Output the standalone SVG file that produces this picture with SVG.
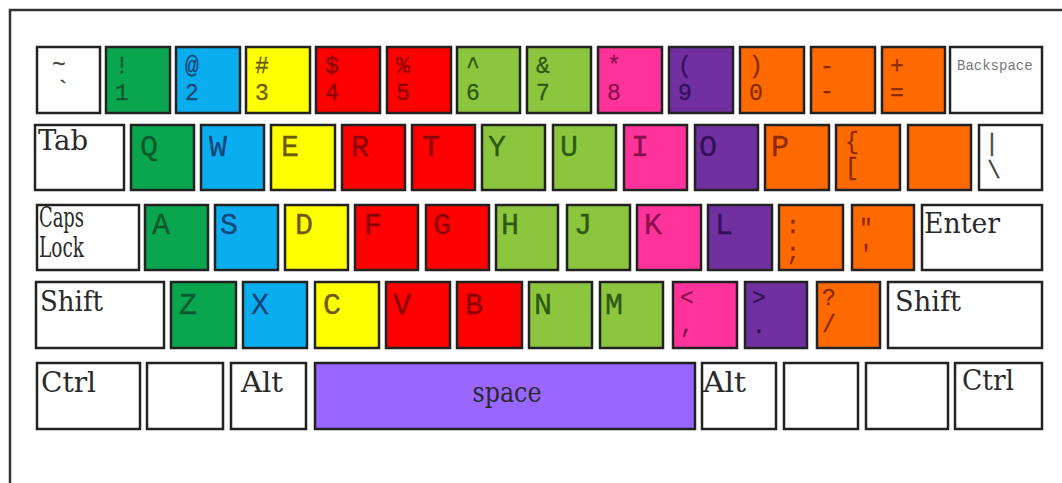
<svg xmlns="http://www.w3.org/2000/svg" width="1062" height="483" viewBox="0 0 1062 483">
<style>
.k{stroke:#222;stroke-width:2.5}
.w{fill:#fff}.g{fill:#0aa64f}.b{fill:#0aaeef}.y{fill:#ffff00}.r{fill:#ff0000}.l{fill:#8cc63f}.p{fill:#ff3399}.v{fill:#7030a0}.o{fill:#ff6a00}.s{fill:#9966ff}
.t{font-family:"Liberation Mono","DejaVu Sans Mono",monospace;font-size:30px;stroke-width:0.3}
.n{font-family:"Liberation Mono","DejaVu Sans Mono",monospace;font-size:23px;stroke-width:0.3}
.m{font-family:"DejaVu Serif Condensed","DejaVu Serif","Liberation Serif",serif;font-size:28px;fill:#2a2a2a}
.tg{fill:#0b5a2a;stroke:#0b5a2a}.tb{fill:#16477a;stroke:#16477a}.ty{fill:#6b5a00;stroke:#6b5a00}.tr{fill:#8a0000;stroke:#8a0000}.tl{fill:#2d5a10;stroke:#2d5a10}.tp{fill:#8a1050;stroke:#8a1050}.tv{fill:#35105a;stroke:#35105a}.to{fill:#8a2a00;stroke:#8a2a00}.tw{fill:#444;stroke:#444}
</style>
<rect x="0" y="0" width="1062" height="483" fill="#fff"/>
<rect id="frame" x="10" y="10" width="1070" height="490" fill="#fff" stroke="#333" stroke-width="2.5"/>
<g id="connectors"></g>

<!-- Row 1 -->
<g id="key-tilde"><rect class="k w" x="37" y="47" width="63" height="66"/><text class="n tw" x="52" y="72" font-size="14">~</text><text class="n tw" x="56" y="97" font-size="14">`</text></g>
<g id="key-1"><rect class="k g" x="106" y="47" width="64" height="66"/><text class="n tg" x="115" y="73">!</text><text class="n tg" x="115" y="100">1</text></g>
<g id="key-2"><rect class="k b" x="176" y="47" width="64" height="66"/><text class="n tb" x="185" y="73">@</text><text class="n tb" x="185" y="100">2</text></g>
<g id="key-3"><rect class="k y" x="246" y="47" width="64" height="66"/><text class="n ty" x="255" y="73">#</text><text class="n ty" x="255" y="100">3</text></g>
<g id="key-4"><rect class="k r" x="316" y="47" width="64" height="66"/><text class="n tr" x="325" y="73">$</text><text class="n tr" x="325" y="100">4</text></g>
<g id="key-5"><rect class="k r" x="387" y="47" width="64" height="66"/><text class="n tr" x="396" y="73">%</text><text class="n tr" x="396" y="100">5</text></g>
<g id="key-6"><rect class="k l" x="457" y="47" width="63" height="66"/><text class="n tl" x="466" y="73">^</text><text class="n tl" x="466" y="100">6</text></g>
<g id="key-7"><rect class="k l" x="527" y="47" width="64" height="66"/><text class="n tl" x="536" y="73">&amp;</text><text class="n tl" x="536" y="100">7</text></g>
<g id="key-8"><rect class="k p" x="598" y="47" width="64" height="66"/><text class="n tp" x="607" y="73">*</text><text class="n tp" x="607" y="100">8</text></g>
<g id="key-9"><rect class="k v" x="669" y="47" width="64" height="66"/><text class="n tv" x="678" y="73">(</text><text class="n tv" x="678" y="100">9</text></g>
<g id="key-0"><rect class="k o" x="740" y="47" width="64" height="66"/><text class="n to" x="749" y="73">)</text><text class="n to" x="749" y="100">0</text></g>
<g id="key-minus"><rect class="k o" x="811" y="47" width="64" height="66"/><text class="n to" x="820" y="73" font-size="17">-</text><text class="n to" x="820" y="98" font-size="17">-</text></g>
<g id="key-equals"><rect class="k o" x="882" y="47" width="63" height="66"/><text class="n to" x="890" y="73">+</text><text class="n to" x="890" y="100">=</text></g>
<g id="key-backspace"><rect class="k w" x="950" y="47" width="92" height="66"/><text x="957" y="70" font-family="'Liberation Mono','DejaVu Sans Mono',monospace" font-size="14" fill="#777">Backspace</text></g>

<!-- Row 2 -->
<g id="key-tab"><rect class="k w" x="35" y="125" width="89" height="65"/><text class="m" x="38" y="150" textLength="50" lengthAdjust="spacingAndGlyphs">Tab</text></g>
<g id="key-q"><rect class="k g" x="131" y="125" width="63" height="65"/><text class="t tg" x="140" y="156">Q</text></g>
<g id="key-w"><rect class="k b" x="201" y="125" width="63" height="65"/><text class="t tb" x="209" y="156">W</text></g>
<g id="key-e"><rect class="k y" x="271" y="125" width="64" height="65"/><text class="t ty" x="281" y="156">E</text></g>
<g id="key-r"><rect class="k r" x="342" y="125" width="63" height="65"/><text class="t tr" x="351" y="156">R</text></g>
<g id="key-t"><rect class="k r" x="412" y="125" width="63" height="65"/><text class="t tr" x="422" y="156">T</text></g>
<g id="key-y"><rect class="k l" x="482" y="125" width="63" height="65"/><text class="t tl" x="488" y="156">Y</text></g>
<g id="key-u"><rect class="k l" x="553" y="125" width="63" height="65"/><text class="t tl" x="560" y="156">U</text></g>
<g id="key-i"><rect class="k p" x="624" y="125" width="63" height="65"/><text class="t tp" x="631" y="156">I</text></g>
<g id="key-o"><rect class="k v" x="695" y="125" width="63" height="65"/><text class="t tv" x="699" y="156">O</text></g>
<g id="key-p"><rect class="k o" x="765" y="125" width="64" height="65"/><text class="t to" x="771" y="156">P</text></g>
<g id="key-lbrace"><rect class="k o" x="836" y="125" width="64" height="65"/><text class="n to" x="845" y="149">{</text><text class="n to" x="845" y="175">[</text></g>
<g id="key-rbrace"><rect class="k o" x="908" y="125" width="63" height="65"/></g>
<g id="key-backslash"><rect class="k w" x="979" y="125" width="63" height="65"/><text class="n tw" x="985" y="151">|</text><text class="n tw" x="987" y="178">\</text></g>

<!-- Row 3 -->
<g id="key-caps"><rect class="k w" x="37" y="205" width="102" height="65"/><text class="m" x="39" y="227" font-size="18" textLength="45" lengthAdjust="spacingAndGlyphs">Caps</text><text class="m" x="39" y="257" font-size="18" textLength="45" lengthAdjust="spacingAndGlyphs">Lock</text></g>
<g id="key-a"><rect class="k g" x="145" y="205" width="63" height="65"/><text class="t tg" x="152" y="234">A</text></g>
<g id="key-s"><rect class="k b" x="215" y="205" width="63" height="65"/><text class="t tb" x="220" y="234">S</text></g>
<g id="key-d"><rect class="k y" x="285" y="205" width="63" height="65"/><text class="t ty" x="295" y="234">D</text></g>
<g id="key-f"><rect class="k r" x="355" y="205" width="63" height="65"/><text class="t tr" x="364" y="234">F</text></g>
<g id="key-g"><rect class="k r" x="426" y="205" width="63" height="65"/><text class="t tr" x="433" y="234">G</text></g>
<g id="key-h"><rect class="k l" x="496" y="205" width="62" height="65"/><text class="t tl" x="501" y="234">H</text></g>
<g id="key-j"><rect class="k l" x="567" y="205" width="63" height="65"/><text class="t tl" x="574" y="234">J</text></g>
<g id="key-k"><rect class="k p" x="637" y="205" width="64" height="65"/><text class="t tp" x="644" y="234">K</text></g>
<g id="key-l"><rect class="k v" x="708" y="205" width="64" height="65"/><text class="t tv" x="715" y="234">L</text></g>
<g id="key-colon"><rect class="k o" x="779" y="205" width="64" height="65"/><text class="n to" x="786" y="233">:</text><text class="n to" x="786" y="260">;</text></g>
<g id="key-quote"><rect class="k o" x="852" y="205" width="62" height="65"/><text class="n to" x="859" y="236">"</text><text class="n to" x="859" y="262">'</text></g>
<g id="key-enter"><rect class="k w" x="922" y="205" width="120" height="65"/><text class="m" x="924" y="233" textLength="76" lengthAdjust="spacingAndGlyphs">Enter</text></g>

<!-- Row 4 -->
<g id="key-lshift"><rect class="k w" x="36" y="282" width="128" height="66"/><text class="m" x="40" y="311" textLength="63" lengthAdjust="spacingAndGlyphs">Shift</text></g>
<g id="key-z"><rect class="k g" x="171" y="282" width="65" height="66"/><text class="t tg" x="179" y="314">Z</text></g>
<g id="key-x"><rect class="k b" x="243" y="282" width="64" height="66"/><text class="t tb" x="251" y="314">X</text></g>
<g id="key-c"><rect class="k y" x="315" y="282" width="64" height="66"/><text class="t ty" x="323" y="314">C</text></g>
<g id="key-v"><rect class="k r" x="386" y="282" width="64" height="66"/><text class="t tr" x="393" y="314">V</text></g>
<g id="key-b"><rect class="k r" x="457" y="282" width="65" height="66"/><text class="t tr" x="465" y="314">B</text></g>
<g id="key-n"><rect class="k l" x="529" y="282" width="63" height="66"/><text class="t tl" x="534" y="314">N</text></g>
<g id="key-m"><rect class="k l" x="600" y="282" width="63" height="66"/><text class="t tl" x="605" y="314">M</text></g>
<g id="key-comma"><rect class="k p" x="673" y="282" width="64" height="66"/><text class="n tp" x="680" y="305" font-size="15">&lt;</text><text class="n tp" x="680" y="333" font-size="15">,</text></g>
<g id="key-period"><rect class="k v" x="745" y="282" width="62" height="66"/><text class="n tv" x="752" y="305" font-size="15">&gt;</text><text class="n tv" x="752" y="333" font-size="15">.</text></g>
<g id="key-slash"><rect class="k o" x="817" y="282" width="63" height="66"/><text class="n to" x="822" y="305">?</text><text class="n to" x="822" y="332">/</text></g>
<g id="key-rshift"><rect class="k w" x="888" y="282" width="154" height="66"/><text class="m" x="895" y="311" textLength="66" lengthAdjust="spacingAndGlyphs">Shift</text></g>

<!-- Row 5 -->
<g id="key-lctrl"><rect class="k w" x="37" y="363" width="103" height="66"/><text class="m" x="41" y="392" textLength="55" lengthAdjust="spacingAndGlyphs">Ctrl</text></g>
<g id="key-lwin"><rect class="k w" x="147" y="363" width="76" height="66"/></g>
<g id="key-lalt"><rect class="k w" x="231" y="363" width="75" height="66"/><text class="m" x="241" y="392" textLength="42" lengthAdjust="spacingAndGlyphs">Alt</text></g>
<g id="key-space"><rect class="k s" x="315" y="363" width="380" height="66" stroke="#2a1050"/><text class="m" x="507" y="402" text-anchor="middle" fill="#2a1060" textLength="69" lengthAdjust="spacingAndGlyphs">space</text></g>
<g id="key-ralt"><rect class="k w" x="702" y="363" width="74" height="66"/><text class="m" x="703" y="392" textLength="43" lengthAdjust="spacingAndGlyphs">Alt</text></g>
<g id="key-rwin"><rect class="k w" x="784" y="363" width="74" height="66"/></g>
<g id="key-menu"><rect class="k w" x="866" y="363" width="82" height="66"/></g>
<g id="key-rctrl"><rect class="k w" x="955" y="363" width="87" height="66"/><text class="m" x="962" y="390" textLength="52" lengthAdjust="spacingAndGlyphs">Ctrl</text></g>
</svg>
